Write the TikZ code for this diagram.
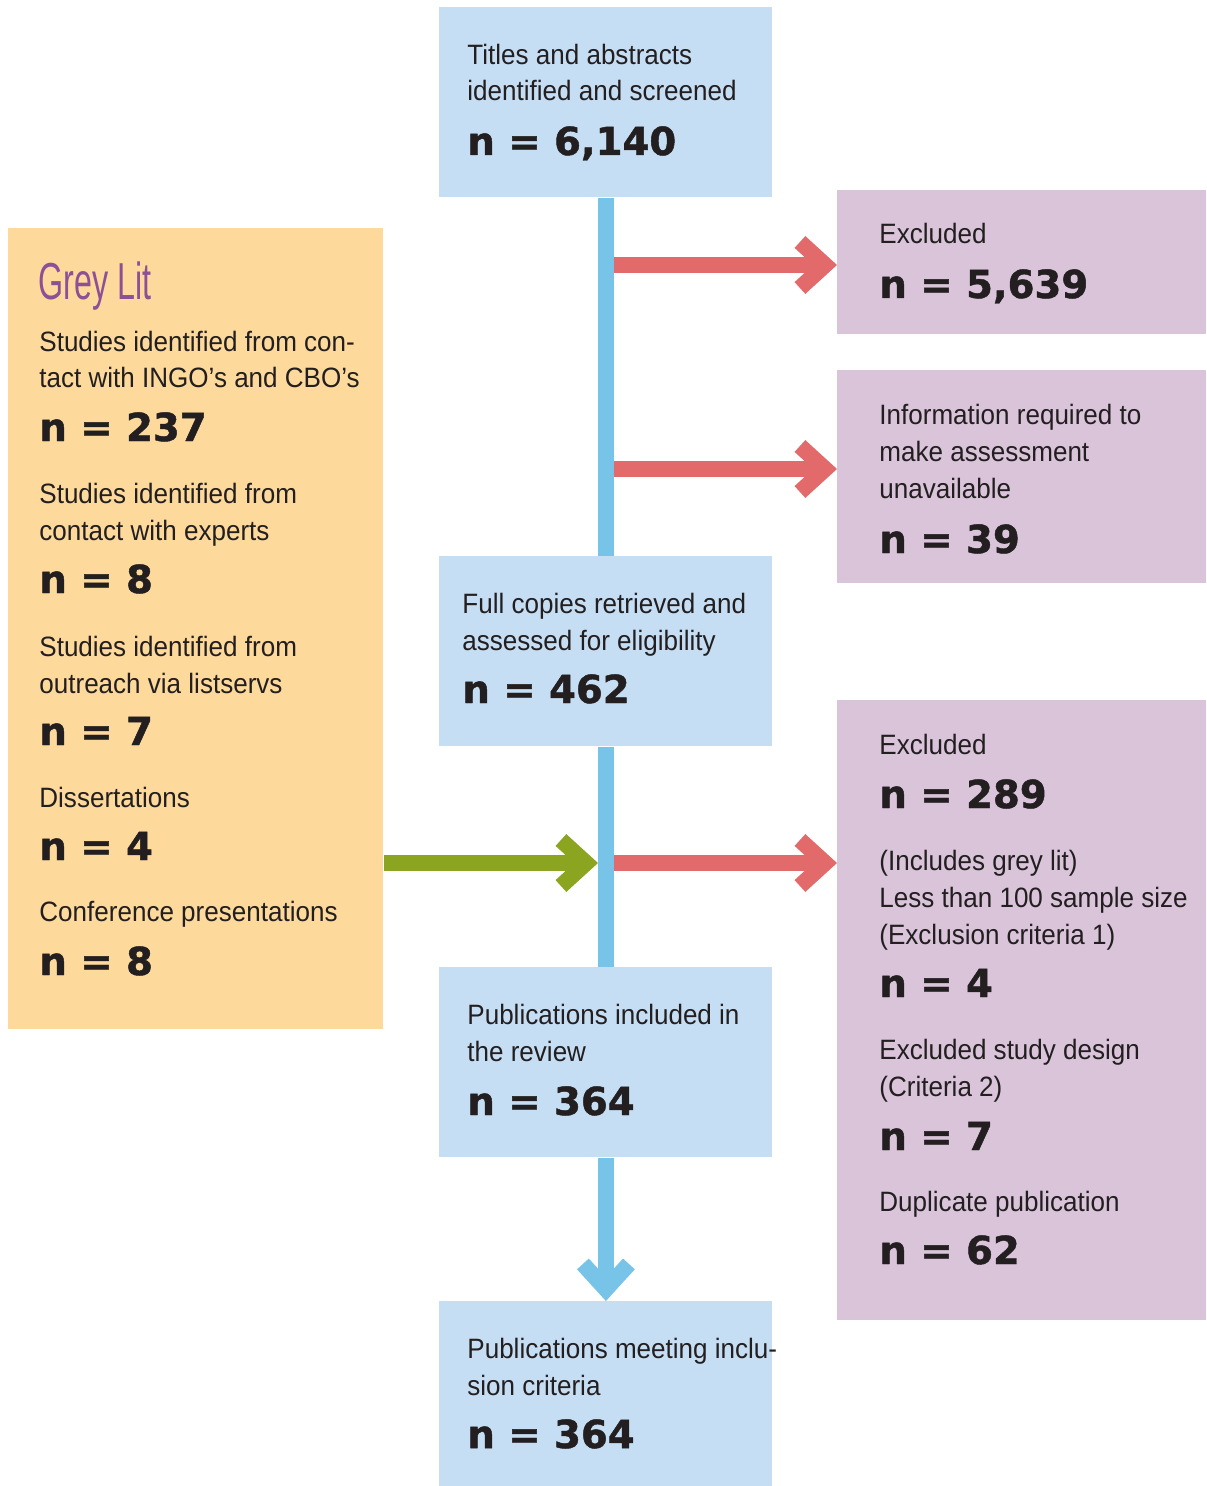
\documentclass[tikz,border=0pt]{standalone}
\usepackage{fontspec}
\setmainfont[FakeStretch=0.93]{Liberation Sans}
\newfontfamily\numfont{DejaVu Sans}[BoldFeatures={FakeBold=1.2}]
\newfontfamily\headfont[FakeStretch=0.62]{Liberation Sans}
\usetikzlibrary{
	positioning,
	calc,
	arrows.meta
}
\definecolor{BoxBlue}{RGB}{198,222,243}
\definecolor{BoxMauve}{RGB}{217,196,218}
\definecolor{BoxSand}{RGB}{253,217,155}
\definecolor{BarBlue}{RGB}{120,196,233}
\definecolor{ExclRed}{RGB}{226,106,106}
\definecolor{GreyGreen}{RGB}{139,165,33}
\definecolor{HeadPurple}{RGB}{140,80,150}
\definecolor{InkBlack}{RGB}{35,31,32}

\begin{document}
\begin{tikzpicture}[
		x=0.5pt, y=-0.5pt,
		box/.style={inner sep=0pt, anchor=north west},
		bluebox/.style={box, fill=BoxBlue, minimum width=166.5pt},
		mauvebox/.style={box, fill=BoxMauve, minimum width=184.5pt},
		sandbox/.style={box, fill=BoxSand, minimum width=187.5pt},
		txt/.style={anchor=base west, inner sep=0pt, align=left, text=InkBlack,
			font=\fontsize{14}{18.4}\selectfont},
		count/.style={anchor=base west, inner sep=0pt, text=InkBlack,
			font=\numfont\bfseries\fontsize{19.3}{22}\selectfont},
		chev/.style={-{Straight Barb[length=12.6pt, width=23pt]}},
		bar/.style={draw=BarBlue, line width=8pt},
		exclarrow/.style={draw=ExclRed, line width=8pt, chev},
		greyarrow/.style={draw=GreyGreen, line width=8pt, chev}
	]
	\useasboundingbox (0,0) rectangle (1206,1486);

	% boxes
	\node[bluebox, minimum height=95pt] (screened) at (439,7) {};
	\node[bluebox, minimum height=95pt] (full) at (439,556) {};
	\node[bluebox, minimum height=95pt] (incl) at (439,967) {};
	\node[bluebox, minimum height=92.5pt] (meet) at (439,1301) {};
	\node[mauvebox, minimum height=72pt] (excla) at (837,190) {};
	\node[mauvebox, minimum height=106.5pt] (exclb) at (837,370) {};
	\node[mauvebox, minimum height=310pt] (exclc) at (837,700) {};
	\node[sandbox, minimum height=400.5pt] (grey) at (8,228) {};

	% central bar
	\draw[bar] (screened) -- (full);
	\draw[bar] (full) -- (incl);
	\draw[bar, chev] (incl) -- (meet);

	% side arrows
	\coordinate (ba) at (614,265);
	\coordinate (bb) at (614,469);
	\coordinate (bc) at (614,863);
	\coordinate (gc) at (598,863);
	\draw[exclarrow] (ba) -- (ba -| excla.west);
	\draw[exclarrow] (bb) -- (bb -| exclb.west);
	\draw[exclarrow] (bc) -- (bc -| exclc.west);
	\draw[greyarrow] (gc -| grey.east) -- (gc);

	% flow texts (anchored at the last line)
	\node[txt] (screenedt) at (467,101) {Titles and abstracts\\identified and screened};
	\node[count] (screenedn) at (467,155) {n = 6,140};
	\node[txt] (fullt) at (462,650) {Full copies retrieved and\\assessed for eligibility};
	\node[count] (fulln) at (462,703) {n = 462};
	\node[txt] (inclt) at (467,1061) {Publications included in\\the review};
	\node[count] (incln) at (467,1115) {n = 364};
	\node[txt] (meett) at (467,1395) {Publications meeting inclu-\\sion criteria};
	\node[count] (meetn) at (467,1448) {n = 364};

	% exclusions
	\node[txt] (exclat) at (879,244) {Excluded};
	\node[count] (exclan) at (879,298) {n = 5,639};
	\node[txt] (exclbt) at (879,498) {Information required to\\make assessment\\unavailable};
	\node[count] (exclbn) at (879,553) {n = 39};
	\node[txt] (exclct) at (879,754) {Excluded};
	\node[count] (exclcn) at (879,808) {n = 289};
	\node[txt] (crita) at (879,944) {(Includes grey lit)\\Less than 100 sample size\\(Exclusion criteria 1)};
	\node[count] (critan) at (879,997) {n = 4};
	\node[txt] (critb) at (879,1096) {Excluded study design\\(Criteria 2)};
	\node[count] (critbn) at (879,1150) {n = 7};
	\node[txt] (dupl) at (879,1211) {Duplicate publication};
	\node[count] (dupln) at (879,1264) {n = 62};

	% grey literature
	\node[anchor=base west, inner sep=0pt, text=HeadPurple,
		font=\headfont\fontsize{26}{30}\selectfont] (greyhead) at (38,300) {Grey Lit};
	\node[txt] (greya) at (39,388) {Studies identified from con-\\tact with INGO’s and CBO’s};
	\node[count] (greyan) at (39,441) {n = 237};
	\node[txt] (greyb) at (39,540) {Studies identified from\\contact with experts};
	\node[count] (greybn) at (39,593) {n = 8};
	\node[txt] (greyc) at (39,693) {Studies identified from\\outreach via listservs};
	\node[count] (greycn) at (39,745) {n = 7};
	\node[txt] (greyd) at (39,807) {Dissertations};
	\node[count] (greydn) at (39,860) {n = 4};
	\node[txt] (greye) at (39,921) {Conference presentations};
	\node[count] (greyen) at (39,975) {n = 8};
\end{tikzpicture}
\end{document}
